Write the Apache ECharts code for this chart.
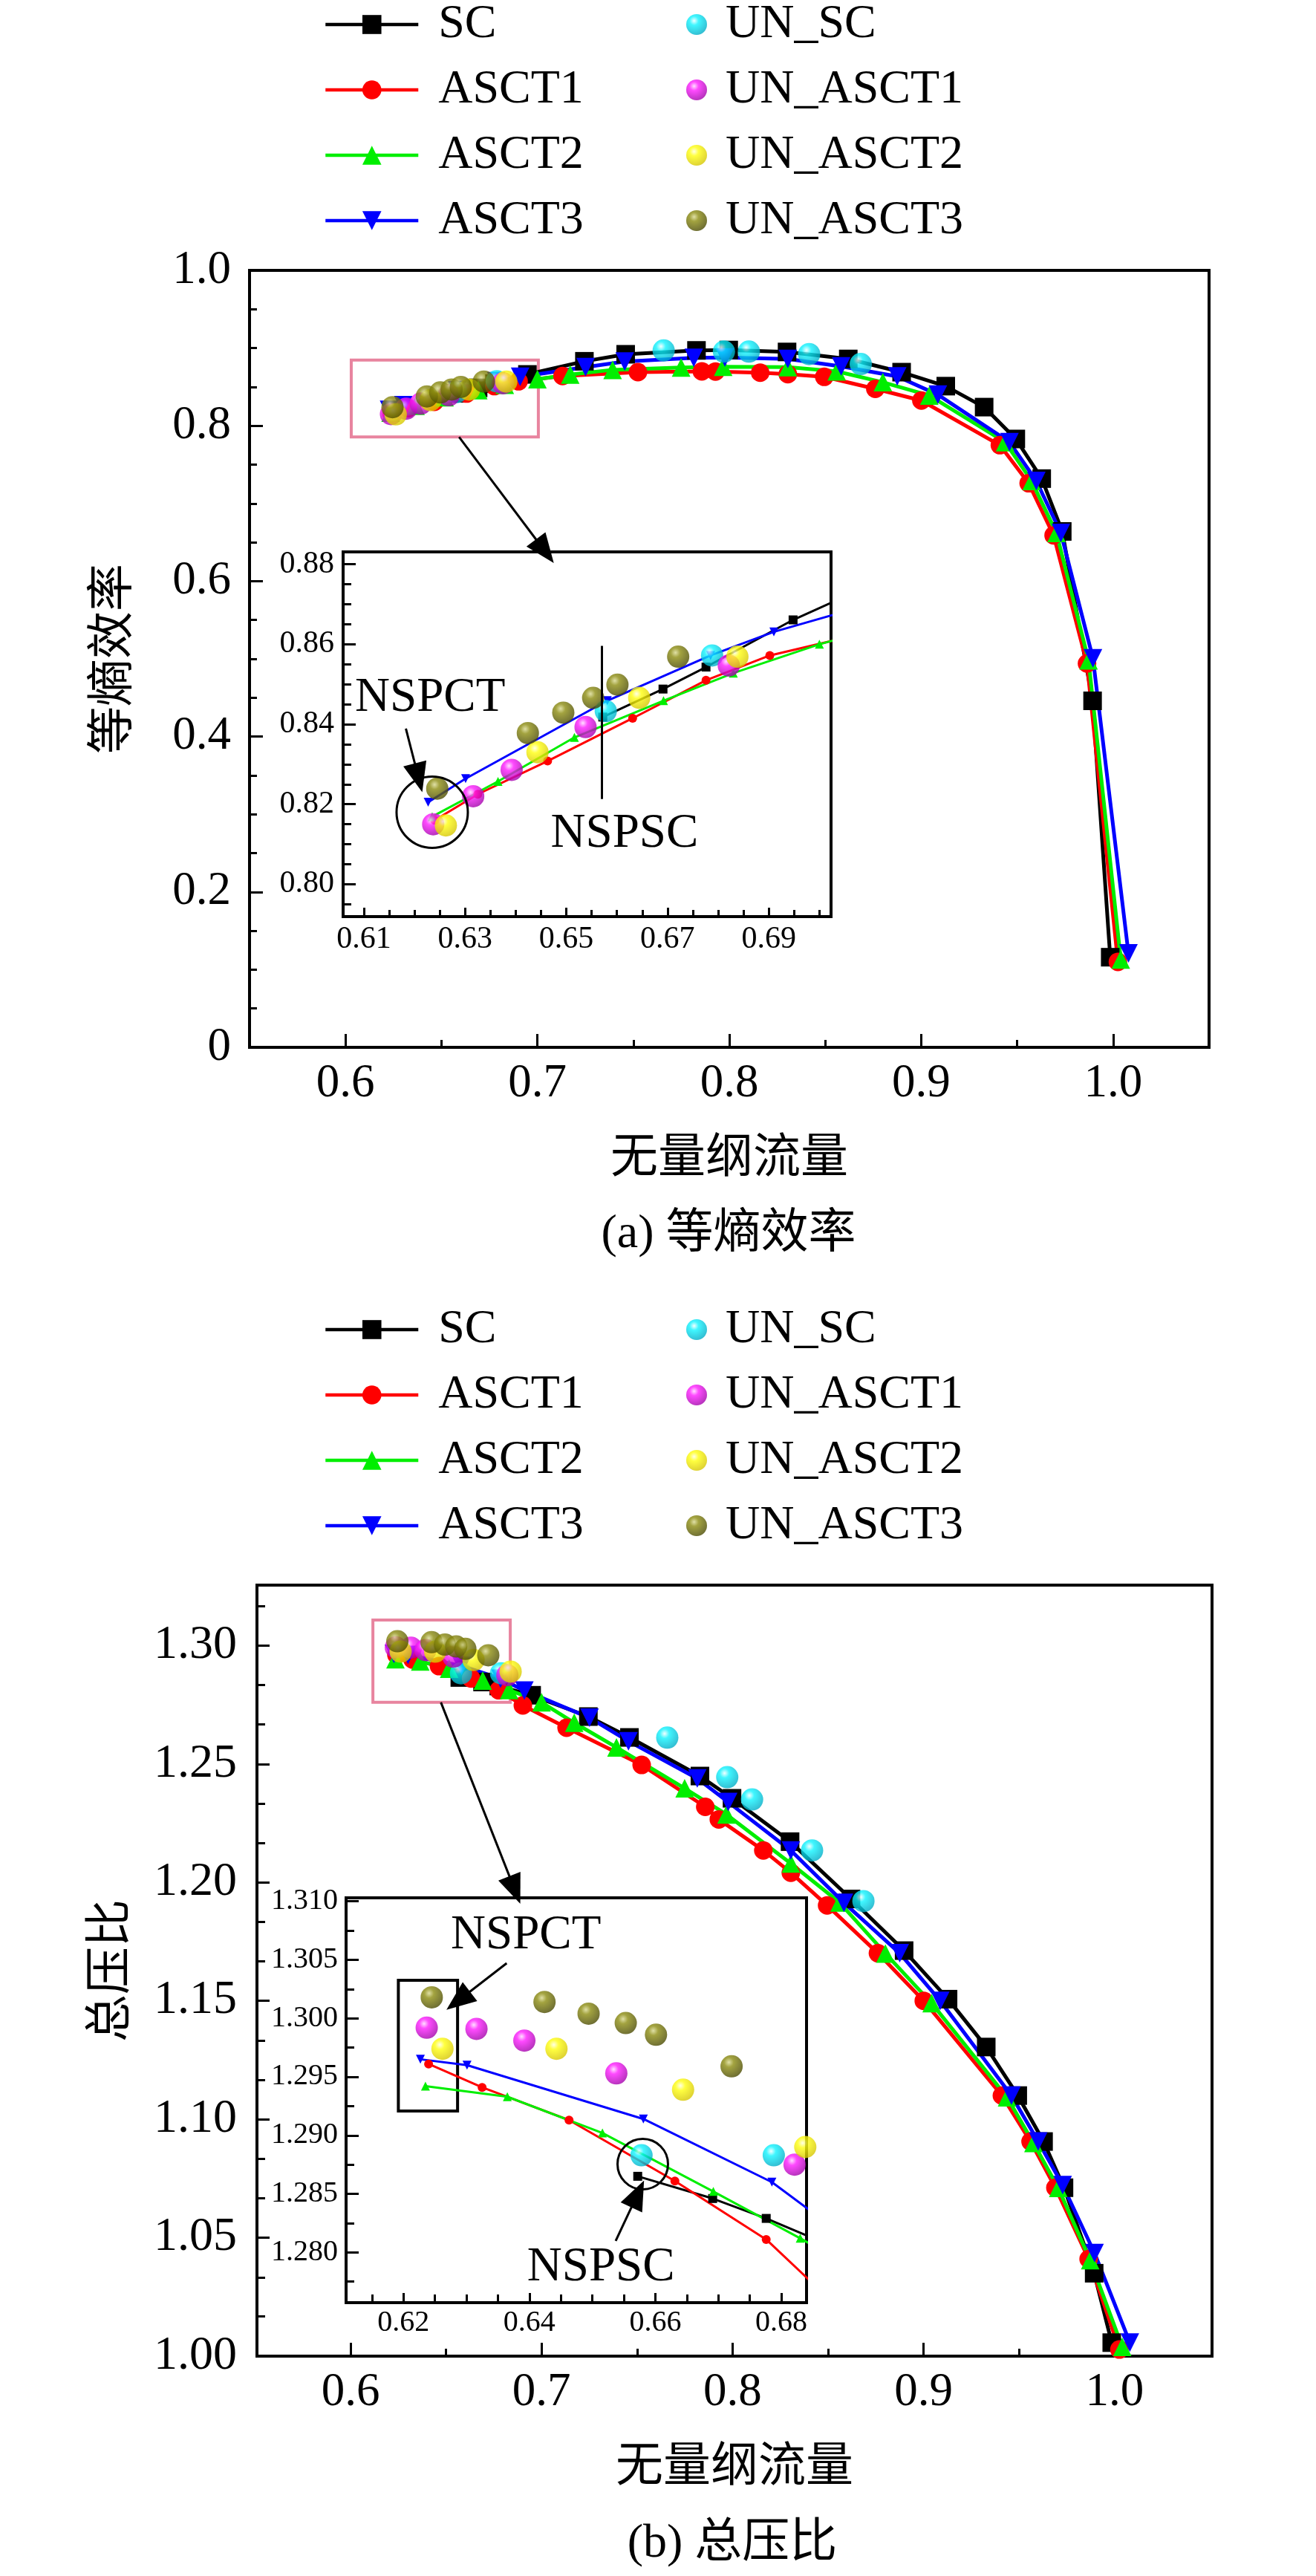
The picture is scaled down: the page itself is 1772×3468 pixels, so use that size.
<!DOCTYPE html>
<html lang="zh">
<head>
    <meta charset="UTF-8">
    <title>等熵效率 / 总压比</title>
    <script src="https://cdn.jsdelivr.net/npm/echarts@6/dist/echarts.min.js"></script>
    <style>
        html, body { margin: 0; padding: 0; background: #fff; }
        #main { width: 1772px; height: 3468px; }
    </style>
</head>
<body>
<div id="main"></div>
<script>
// ---------- data ----------
// SC
const scFlow = [0.6572, 0.6691, 0.6776, 0.6948, 0.7245, 0.7460, 0.7829, 0.7997, 0.8301, 0.8620, 0.8898, 0.9128, 0.9328, 0.9493, 0.9628, 0.9735, 0.9893, 0.9985]
const scEff  = [0.8418, 0.8488, 0.8543, 0.8661, 0.8830, 0.8920, 0.8970, 0.8975, 0.8950, 0.8860, 0.8690, 0.8510, 0.8240, 0.7830, 0.7320, 0.6640, 0.4460, 0.1160]
const scPr   = [1.2865, 1.2846, 1.2829, 1.2790, 1.2700, 1.2612, 1.2449, 1.2355, 1.2172, 1.1930, 1.1712, 1.1507, 1.1305, 1.1100, 1.0906, 1.0711, 1.0350, 1.0057]
// ASCT1
const a1Flow = [0.6240, 0.6325, 0.6463, 0.6631, 0.6776, 0.6902, 0.7131, 0.7524, 0.7857, 0.7928, 0.8161, 0.8305, 0.8495, 0.8761, 0.9001, 0.9410, 0.9560, 0.9690, 0.9864, 1.0025]
const a1Eff  = [0.8160, 0.8225, 0.8308, 0.8415, 0.8510, 0.8572, 0.8640, 0.8690, 0.8700, 0.8698, 0.8683, 0.8665, 0.8630, 0.8475, 0.8325, 0.7750, 0.7260, 0.6590, 0.4940, 0.1100]
const a1Pr   = [1.2961, 1.2941, 1.2913, 1.2861, 1.2811, 1.2747, 1.2653, 1.2496, 1.2319, 1.2266, 1.2135, 1.2041, 1.1903, 1.1701, 1.1500, 1.1100, 1.0906, 1.0711, 1.0410, 1.0028]
// ASCT2
const a2Flow = [0.6235, 0.6365, 0.6516, 0.6692, 0.6830, 0.7000, 0.7171, 0.7392, 0.7749, 0.7968, 0.8305, 0.8560, 0.8800, 0.9042, 0.9437, 0.9575, 0.9705, 0.9872, 1.0040]
const a2Eff  = [0.8169, 0.8257, 0.8367, 0.8459, 0.8528, 0.8600, 0.8660, 0.8720, 0.8750, 0.8760, 0.8755, 0.8700, 0.8560, 0.8390, 0.7790, 0.7290, 0.6620, 0.4980, 0.1130]
const a2Pr   = [1.2942, 1.2933, 1.2902, 1.2852, 1.2812, 1.2760, 1.2674, 1.2570, 1.2397, 1.2287, 1.2080, 1.1915, 1.1700, 1.1490, 1.1093, 1.0900, 1.0710, 1.0405, 1.0039]
// ASCT3
const a3Flow = [0.6227, 0.6301, 0.6581, 0.6785, 0.6910, 0.7251, 0.7455, 0.7815, 0.7977, 0.8305, 0.8583, 0.8875, 0.9087, 0.9460, 0.9600, 0.9728, 0.9895, 1.0080]
const a3Eff  = [0.8205, 0.8264, 0.8459, 0.8572, 0.8631, 0.8755, 0.8827, 0.8875, 0.8880, 0.8860, 0.8764, 0.8635, 0.8400, 0.7790, 0.7290, 0.6620, 0.5006, 0.1210]
const a3Pr   = [1.2965, 1.2960, 1.2914, 1.2860, 1.2810, 1.2695, 1.2596, 1.2439, 1.2339, 1.2135, 1.1914, 1.1701, 1.1500, 1.1100, 1.0906, 1.0722, 1.0435, 1.0057]
// unsteady points
const unScFlow = [0.6578, 0.6788, 0.7658, 0.7972, 0.8102, 0.8416, 0.8685]
const unScEff  = [0.8433, 0.8572, 0.8970, 0.8955, 0.8955, 0.8923, 0.8795]
const unScPr   = [1.2883, 1.2883, 1.2611, 1.2444, 1.2350, 1.2135, 1.1921]
const unA1Flow = [0.6237, 0.6316, 0.6392, 0.6538, 0.6821]
const unA1Eff  = [0.8150, 0.8220, 0.8286, 0.8393, 0.8547]
const unA1Pr   = [1.2992, 1.2991, 1.2981, 1.2953, 1.2875]
const unA2Flow = [0.6262, 0.6443, 0.6644, 0.6838]
const unA2Eff  = [0.8147, 0.8330, 0.8466, 0.8569]
const unA2Pr   = [1.2974, 1.2974, 1.2939, 1.2890]
const unA3Flow = [0.6245, 0.6424, 0.6494, 0.6553, 0.6601, 0.6721]
const unA3Eff  = [0.8239, 0.8378, 0.8429, 0.8466, 0.8499, 0.8569]
const unA3Pr   = [1.3018, 1.3014, 1.3004, 1.2996, 1.2986, 1.2959]

// ---------- tick labels ----------
const flowTicks   = [0.6, 0.7, 0.8, 0.9, 1.0]
const flowMinor   = [0.65, 0.75, 0.85, 0.95]
const effTicks    = [0, 0.2, 0.4, 0.6, 0.8, 1.0]
const effMinor    = [0.05, 0.1, 0.15, 0.25, 0.3, 0.35, 0.45, 0.5, 0.55, 0.65, 0.7, 0.75, 0.85, 0.9, 0.95]
const prTicks     = [1.00, 1.05, 1.10, 1.15, 1.20, 1.25, 1.30]
const prMinor     = [1.0167, 1.0333, 1.0667, 1.0833, 1.1167, 1.1333, 1.1667, 1.1833, 1.2167, 1.2333, 1.2667, 1.2833, 1.3167]
const zoomFlowTicksA = [0.61, 0.63, 0.65, 0.67, 0.69]
const zoomFlowMinorA = [0.615, 0.62, 0.625, 0.635, 0.64, 0.645, 0.655, 0.66, 0.665, 0.675, 0.68, 0.685, 0.695, 0.70]
const zoomEffTicks   = [0.80, 0.82, 0.84, 0.86, 0.88]
const zoomEffMinor   = [0.795, 0.805, 0.81, 0.815, 0.825, 0.83, 0.835, 0.845, 0.85, 0.855, 0.865, 0.87, 0.875]
const zoomFlowTicksB = [0.62, 0.64, 0.66, 0.68]
const zoomFlowMinorB = [0.615, 0.625, 0.63, 0.635, 0.645, 0.65, 0.655, 0.665, 0.67, 0.675]
const zoomPrTicks    = [1.280, 1.285, 1.290, 1.295, 1.300, 1.305, 1.310]
const zoomPrMinor    = [1.2775, 1.2825, 1.2875, 1.2925, 1.2975, 1.3025, 1.3075]

const lineNames = ['SC', 'ASCT1', 'ASCT2', 'ASCT3']
const ballNames = ['UN_SC', 'UN_ASCT1', 'UN_ASCT2', 'UN_ASCT3']

// ---------- styles ----------
const SERIF = 'Liberation Serif, DejaVu Serif, serif'
const CJK = 'Liberation Serif, Noto Sans CJK SC, sans-serif'

function ball (light, base, dark) {
    return {
        type: 'radial', x: 0.38, y: 0.32, r: 0.72,
        colorStops: [
            { offset: 0, color: light },
            { offset: 0.3, color: base },
            { offset: 1, color: dark }
        ]
    }
}

const lineStyles = {
    SC:    { color: '#000000', symbol: 'rect', rotate: 0 },
    ASCT1: { color: '#ff0000', symbol: 'circle', rotate: 0 },
    ASCT2: { color: '#00ee00', symbol: 'triangle', rotate: 0 },
    ASCT3: { color: '#0000ff', symbol: 'triangle', rotate: 180 }
}
const ballStyles = {
    UN_SC:    ball('#f0ffff', '#10f4ff', '#00aac4'),
    UN_ASCT1: ball('#ffd8ff', '#ff1cff', '#a000a8'),
    UN_ASCT2: ball('#ffffe0', '#ffff10', '#d4c400'),
    UN_ASCT3: ball('#d8d890', '#8c8c10', '#484800')
}

function pairs (xs, ys) {
    return xs.map((x, i) => [x, ys[i]])
}

// two axes per direction: one with labels + long ticks, one with short ticks only
function axes (dim, gridIndex, c) {
    const major = {
        type: 'value', gridIndex, min: c.min, max: c.max,
        position: dim === 'x' ? 'bottom' : 'left',
        axisLine: { show: true, onZero: false, lineStyle: { color: '#000', width: c.lw } },
        axisTick: { show: true, inside: true, length: c.majorLen, lineStyle: { color: '#000', width: 3 }, customValues: c.ticks },
        axisLabel: { show: true, margin: c.margin, fontSize: c.fontSize, fontFamily: SERIF, color: '#000', customValues: c.ticks, formatter: c.fmt },
        splitLine: { show: false }
    }
    if (c.name) {
        major.name = c.name
        major.nameLocation = 'middle'
        major.nameGap = c.nameGap
        major.nameTextStyle = { fontSize: 64, fontFamily: CJK, color: '#000' }
    }
    const minor = {
        type: 'value', gridIndex, min: c.min, max: c.max,
        position: dim === 'x' ? 'bottom' : 'left',
        axisLine: { show: false, onZero: false },
        axisTick: { show: true, inside: true, length: c.minorLen, lineStyle: { color: '#000', width: 3 }, customValues: c.minor },
        axisLabel: { show: false },
        splitLine: { show: false }
    }
    return [major, minor]
}

const fmt1 = v => (v === 0 ? '0' : v.toFixed(1))
const fmt2 = v => v.toFixed(2)
const fmt3 = v => v.toFixed(3)

const grids = [
    { left: 336, top: 364, width: 1292, height: 1046 },            // (a) main
    { left: 462, top: 743, width: 657, height: 491, back: true },  // (a) zoom
    { left: 346, top: 2134, width: 1286, height: 1038 },           // (b) main
    { left: 466, top: 2555, width: 620, height: 545, back: true }  // (b) zoom
].map(g => ({
    left: g.left, top: g.top, width: g.width, height: g.height,
    show: true, borderColor: '#000', borderWidth: 4,
    backgroundColor: g.back ? '#fff' : 'transparent',
    containLabel: false, outerBoundsMode: 'none'
}))

const xAxes = [].concat(
    axes('x', 0, { min: 0.55, max: 1.05, ticks: flowTicks, minor: flowMinor, majorLen: 18, minorLen: 10, lw: 4, margin: 18, fontSize: 63, fmt: fmt1, name: '无量纲流量', nameGap: 119 }),
    axes('x', 1, { min: 0.6059, max: 0.7023, ticks: zoomFlowTicksA, minor: zoomFlowMinorA, majorLen: 12, minorLen: 9, lw: 4, margin: 10, fontSize: 42, fmt: fmt2 }),
    axes('x', 2, { min: 0.551, max: 1.051, ticks: flowTicks, minor: flowMinor, majorLen: 18, minorLen: 10, lw: 4, margin: 18, fontSize: 63, fmt: fmt1, name: '无量纲流量', nameGap: 119 }),
    axes('x', 3, { min: 0.6109, max: 0.684, ticks: zoomFlowTicksB, minor: zoomFlowMinorB, majorLen: 13, minorLen: 11, lw: 4, margin: 7, fontSize: 40, fmt: fmt2 })
)
const yAxes = [].concat(
    axes('y', 0, { min: 0, max: 1.0, ticks: effTicks, minor: effMinor, majorLen: 18, minorLen: 10, lw: 4, margin: 25, fontSize: 63, fmt: fmt1, name: '等熵效率', nameGap: 150 }),
    axes('y', 1, { min: 0.7919, max: 0.8831, ticks: zoomEffTicks, minor: zoomEffMinor, majorLen: 17, minorLen: 11, lw: 4, margin: 12, fontSize: 42, fmt: fmt2 }),
    axes('y', 2, { min: 1.0, max: 1.3255, ticks: prTicks, minor: prMinor, majorLen: 17, minorLen: 11, lw: 4, margin: 27, fontSize: 64, fmt: fmt2, name: '总压比', nameGap: 163 }),
    axes('y', 3, { min: 1.2757, max: 1.3103, ticks: zoomPrTicks, minor: zoomPrMinor, majorLen: 17, minorLen: 11, lw: 4, margin: 11, fontSize: 40, fmt: fmt3 })
)

const lineData = {
    eff: { SC: pairs(scFlow, scEff), ASCT1: pairs(a1Flow, a1Eff), ASCT2: pairs(a2Flow, a2Eff), ASCT3: pairs(a3Flow, a3Eff) },
    pr:  { SC: pairs(scFlow, scPr),  ASCT1: pairs(a1Flow, a1Pr),  ASCT2: pairs(a2Flow, a2Pr),  ASCT3: pairs(a3Flow, a3Pr) }
}
const ballData = {
    eff: { UN_SC: pairs(unScFlow, unScEff), UN_ASCT1: pairs(unA1Flow, unA1Eff), UN_ASCT2: pairs(unA2Flow, unA2Eff), UN_ASCT3: pairs(unA3Flow, unA3Eff) },
    pr:  { UN_SC: pairs(unScFlow, unScPr),  UN_ASCT1: pairs(unA1Flow, unA1Pr),  UN_ASCT2: pairs(unA2Flow, unA2Pr),  UN_ASCT3: pairs(unA3Flow, unA3Pr) }
}

function seriesFor (gridIndex, key, zoomed) {
    const ax = gridIndex * 2
    const out = []
    lineNames.forEach(n => {
        const s = lineStyles[n]
        out.push({
            name: n, type: 'line', xAxisIndex: ax, yAxisIndex: ax,
            data: lineData[key][n],
            symbol: s.symbol, symbolRotate: s.rotate,
            symbolSize: zoomed ? 12 : 25,
            lineStyle: { color: s.color, width: zoomed ? 3 : 5 },
            itemStyle: { color: s.color },
            z: 3
        })
    })
    ballNames.forEach(n => {
        out.push({
            name: n, type: 'scatter', xAxisIndex: ax, yAxisIndex: ax,
            data: ballData[key][n],
            symbol: 'circle', symbolSize: 30,
            itemStyle: { color: ballStyles[n] },
            z: 4
        })
    })
    return out
}

// annotations (positions in data units of each grid)
function arrow (from, to) {
    return [{ coord: from, symbol: 'none' }, { coord: to, symbol: 'triangle', symbolSize: [32, 40] }]
}
function plain (from, to) {
    return [{ coord: from, symbol: 'none' }, { coord: to, symbol: 'none' }]
}
function word (at, text) {
    return {
        coord: at, symbol: 'rect', symbolSize: 1, itemStyle: { color: 'rgba(0,0,0,0)' },
        label: { show: true, position: 'inside', formatter: text, fontSize: 65, fontFamily: SERIF, color: '#000' }
    }
}
function ring (at, size) {
    return {
        coord: at, symbol: 'circle', symbolSize: size,
        itemStyle: { color: 'rgba(0,0,0,0)', borderColor: '#000', borderWidth: 3 },
        label: { show: false }
    }
}
function noteSeries (gridIndex, n) {
    const ax = gridIndex * 2
    return {
        type: 'line', xAxisIndex: ax, yAxisIndex: ax, data: [], silent: true, z: 10,
        markLine: {
            silent: true, symbol: ['none', 'none'], label: { show: false },
            lineStyle: { color: '#000', width: 3, type: 'solid' },
            emphasis: { disabled: true },
            data: n.lines || []
        },
        markPoint: { silent: true, emphasis: { disabled: true }, data: n.points || [] },
        markArea: {
            silent: true, label: { show: false }, emphasis: { disabled: true },
            itemStyle: { color: 'rgba(0,0,0,0)', borderColor: n.boxColor || '#000', borderWidth: 4 },
            data: n.boxes || []
        }
    }
}

const notes = [
    noteSeries(0, {
        boxColor: '#e8849f',
        boxes: [[{ coord: [0.603, 0.8845] }, { coord: [0.7005, 0.7855] }]],
        lines: [arrow([0.6592, 0.7855], [0.7039, 0.6386])]
    }),
    noteSeries(1, {
        lines: [plain([0.657, 0.8596], [0.657, 0.8213]), arrow([0.6183, 0.8389], [0.6208, 0.8266])],
        points: [ring([0.6235, 0.818], 96), word([0.6231, 0.8466], 'NSPCT'), word([0.6615, 0.8125], 'NSPSC')]
    }),
    noteSeries(2, {
        boxColor: '#e8849f',
        boxes: [[{ coord: [0.6117, 1.3108] }, { coord: [0.6836, 1.2760] }]],
        lines: [arrow([0.6473, 1.2760], [0.6860, 1.1968])]
    }),
    noteSeries(3, {
        boxes: [[{ coord: [0.6192, 1.30326] }, { coord: [0.6286, 1.29208] }]],
        lines: [arrow([0.6364, 1.30471], [0.6287, 1.30151]), arrow([0.6537, 1.28098], [0.6572, 1.28499])],
        points: [ring([0.658, 1.28754], 68), word([0.63946, 1.30709], 'NSPCT'), word([0.65136, 1.27867], 'NSPSC')]
    })
]

function legends (top) {
    const text = { fontSize: 64, fontFamily: SERIF, color: '#000', lineHeight: 66 }
    return [
        {
            orient: 'vertical', left: 436, top, padding: 0, itemGap: 22,
            itemWidth: 125, itemHeight: 32, selectedMode: false,
            lineStyle: { width: 4.5 },
            data: lineNames, textStyle: Object.assign({ padding: [0, 0, 0, 22] }, text)
        },
        {
            orient: 'vertical', left: 924, top, padding: 0, itemGap: 22,
            itemWidth: 28, itemHeight: 28, selectedMode: false,
            data: ballNames, textStyle: Object.assign({ padding: [0, 0, 0, 20] }, text)
        }
    ]
}

const chart = echarts.init(document.getElementById('main'))
chart.setOption({
    animation: false,
    backgroundColor: '#fff',
    textStyle: { fontFamily: SERIF },
    grid: grids,
    xAxis: xAxes,
    yAxis: yAxes,
    legend: legends(0).concat(legends(1757)),
    series: [].concat(
        seriesFor(0, 'eff', false),
        seriesFor(1, 'eff', true),
        seriesFor(2, 'pr', false),
        seriesFor(3, 'pr', true),
        notes
    ),
    graphic: [
        { type: 'text', x: 981, y: 1662, style: { text: '(a) 等熵效率', fontSize: 64, fontFamily: CJK, fill: '#000', align: 'center', verticalAlign: 'middle' } },
        { type: 'text', x: 986, y: 3425, style: { text: '(b) 总压比', fontSize: 64, fontFamily: CJK, fill: '#000', align: 'center', verticalAlign: 'middle' } }
    ]
})
</script>
</body>
</html>
